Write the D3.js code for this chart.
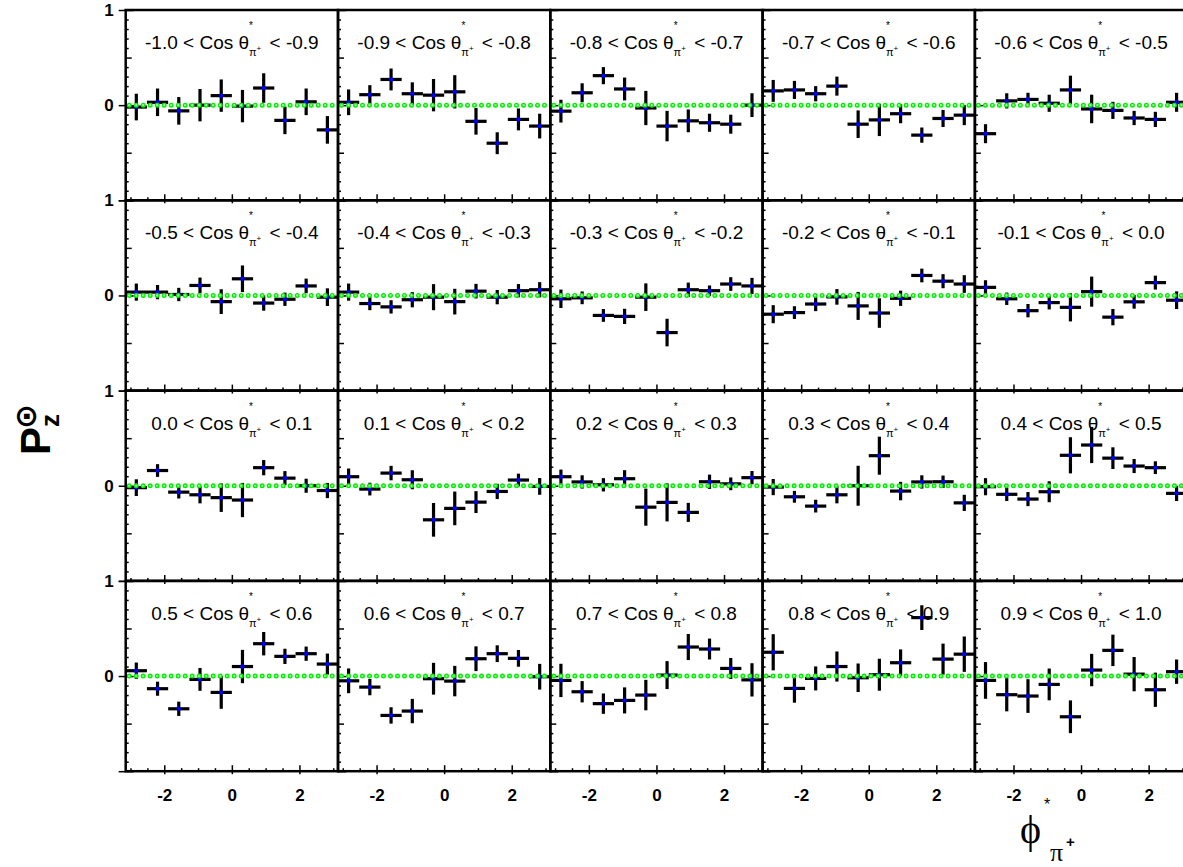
<!DOCTYPE html>
<meta charset="utf-8">
<style>
body { margin: 0; background: #fff; }
text { font-family: "Liberation Sans", Arial, Helvetica, sans-serif; }
</style>
<svg width="1183" height="867"></svg>
<script src="https://d3js.org/d3.v7.min.js"></script>
<script>

// cos(theta*) bin edges, one panel per bin
let cosEdges = ["-1.0", "-0.9", "-0.8", "-0.7", "-0.6", "-0.5", "-0.4", "-0.3", "-0.2", "-0.1",
                "0.0", "0.1", "0.2", "0.3", "0.4", "0.5", "0.6", "0.7", "0.8", "0.9", "1.0"];

// P_z values (10 phi* bins per panel)
let pz = [
  [-0.02, 0.03, -0.06, 0.0, 0.10, -0.01, 0.18, -0.16, 0.035, -0.26],
  [0.03, 0.11, 0.27, 0.12, 0.105, 0.14, -0.17, -0.40, -0.15, -0.22],
  [-0.063, 0.13, 0.31, 0.17, -0.03, -0.22, -0.165, -0.185, -0.20, 0.0],
  [0.15, 0.16, 0.12, 0.20, -0.20, -0.155, -0.09, -0.315, -0.14, -0.105],
  [-0.30, 0.045, 0.06, 0.02, 0.16, -0.04, -0.055, -0.135, -0.15, 0.03],
  [0.035, 0.035, 0.01, 0.105, -0.065, 0.175, -0.08, -0.04, 0.10, -0.018],
  [0.035, -0.085, -0.12, -0.045, -0.018, -0.065, 0.045, -0.018, 0.05, 0.06],
  [-0.035, -0.025, -0.21, -0.22, -0.018, -0.39, 0.06, 0.05, 0.12, 0.10],
  [-0.197, -0.18, -0.09, -0.015, -0.11, -0.185, -0.03, 0.21, 0.15, 0.12],
  [0.085, -0.035, -0.16, -0.075, -0.125, 0.04, -0.228, -0.067, 0.135, -0.05],
  [-0.02, 0.16, -0.067, -0.095, -0.125, -0.15, 0.19, 0.08, 0.0, -0.05],
  [0.095, -0.035, 0.133, 0.063, -0.358, -0.238, -0.172, -0.06, 0.06, -0.007],
  [0.095, 0.04, 0.01, 0.074, -0.225, -0.175, -0.28, 0.042, 0.02, 0.085],
  [-0.014, -0.116, -0.214, -0.095, 0.0, 0.316, -0.056, 0.04, 0.042, -0.18],
  [-0.01, -0.09, -0.14, -0.063, 0.32, 0.428, 0.29, 0.207, 0.19, -0.08],
  [0.056, -0.133, -0.344, -0.035, -0.172, 0.10, 0.34, 0.207, 0.235, 0.126],
  [-0.05, -0.116, -0.414, -0.368, -0.028, -0.053, 0.182, 0.235, 0.186, -0.007],
  [-0.046, -0.165, -0.29, -0.256, -0.2, 0.01, 0.305, 0.284, 0.08, -0.04],
  [0.25, -0.13, -0.025, 0.1, -0.018, 0.014, 0.14, 0.614, 0.178, 0.23],
  [-0.046, -0.196, -0.21, -0.088, -0.428, 0.063, 0.27, 0.02, -0.144, 0.046]
];

// statistical errors
let pzErr = [
  [0.14, 0.145, 0.145, 0.17, 0.17, 0.17, 0.155, 0.145, 0.14, 0.145],
  [0.135, 0.10, 0.115, 0.12, 0.17, 0.175, 0.14, 0.115, 0.115, 0.13],
  [0.12, 0.10, 0.09, 0.12, 0.18, 0.16, 0.12, 0.095, 0.10, 0.125],
  [0.115, 0.095, 0.08, 0.10, 0.145, 0.17, 0.10, 0.08, 0.09, 0.105],
  [0.10, 0.08, 0.07, 0.09, 0.15, 0.15, 0.09, 0.075, 0.08, 0.10],
  [0.09, 0.075, 0.07, 0.083, 0.13, 0.14, 0.08, 0.07, 0.077, 0.093],
  [0.09, 0.07, 0.07, 0.08, 0.137, 0.135, 0.077, 0.075, 0.07, 0.08],
  [0.097, 0.067, 0.067, 0.08, 0.145, 0.145, 0.075, 0.055, 0.072, 0.085],
  [0.095, 0.067, 0.075, 0.082, 0.147, 0.155, 0.08, 0.072, 0.074, 0.093],
  [0.075, 0.065, 0.07, 0.072, 0.148, 0.158, 0.086, 0.072, 0.073, 0.093],
  [0.088, 0.067, 0.067, 0.09, 0.15, 0.18, 0.08, 0.074, 0.074, 0.08],
  [0.086, 0.067, 0.076, 0.1, 0.177, 0.177, 0.115, 0.08, 0.067, 0.088],
  [0.075, 0.07, 0.07, 0.09, 0.195, 0.2, 0.1, 0.075, 0.067, 0.07],
  [0.085, 0.062, 0.067, 0.09, 0.21, 0.2, 0.097, 0.07, 0.065, 0.085],
  [0.09, 0.07, 0.074, 0.11, 0.19, 0.19, 0.114, 0.074, 0.067, 0.08],
  [0.086, 0.074, 0.075, 0.12, 0.172, 0.175, 0.123, 0.08, 0.075, 0.11],
  [0.13, 0.086, 0.086, 0.128, 0.167, 0.16, 0.13, 0.088, 0.088, 0.135],
  [0.175, 0.112, 0.107, 0.137, 0.16, 0.147, 0.137, 0.11, 0.11, 0.175],
  [0.19, 0.15, 0.126, 0.158, 0.15, 0.168, 0.14, 0.13, 0.163, 0.186],
  [0.193, 0.175, 0.177, 0.167, 0.172, 0.17, 0.165, 0.18, 0.18, 0.128]
];

let xMajor = [-2, 0, 2];
let yLabels = [1, 0];

// layout
let nCols = 5, nRows = 4;
let marginLeft = 125.7, marginTop = 10, pw = 212.3, ph = 190.3;
let nBins = 10;

let svg = d3.select("svg");

let x = d3.scaleLinear().domain([-Math.PI, Math.PI]).range([0, pw]);
let y = d3.scaleLinear().domain([-1, 1]).range([ph, 0]);
let binW = 2 * Math.PI / nBins;

let xMinor = d3.range(-3, 3.01, 0.5).filter(v => xMajor.indexOf(v) < 0);
let yMinor = d3.range(-10, 11).map(v => v / 10).filter(v => Math.abs(v) !== 1 && v !== 0 && Math.abs(v) !== 0.5);

function styleTicks(a) {
  a.select(".domain").remove();
  a.selectAll(".tick line").attr("stroke", "#000").attr("stroke-width", 1.5);
}

pz.forEach(function(vals, p) {
  let col = p % nCols, row = Math.floor(p / nCols);
  let g = svg.append("g")
    .attr("transform", `translate(${marginLeft + col * pw},${marginTop + row * ph})`);

  // ticks on the bottom edge, pointing up
  g.append("g").attr("transform", `translate(0,${ph})`)
    .call(d3.axisBottom(x).tickValues(xMinor).tickSize(-3).tickFormat(""))
    .call(styleTicks);
  let xa = g.append("g").attr("transform", `translate(0,${ph})`)
    .call(d3.axisBottom(x).tickValues(xMajor).tickSize(-6)
      .tickFormat(row === nRows - 1 ? (d => String(d)) : ""))
    .call(styleTicks);
  xa.selectAll(".tick text")
    .attr("y", 30).attr("dy", null)
    .attr("fill", "#000")
    .style("font-family", "Liberation Sans, Arial, sans-serif")
    .style("font-weight", "bold").style("font-size", "17px");
  xa.selectAll(".tick line").attr("y2", -6).attr("y1", 3);

  // ticks on the left edge, pointing right
  g.append("g")
    .call(d3.axisLeft(y).tickValues(yMinor).tickSize(-3).tickFormat(""))
    .call(styleTicks);
  g.append("g")
    .call(d3.axisLeft(y).tickValues([-0.5, 0.5]).tickSize(-6).tickFormat(""))
    .call(styleTicks);
  let ya = g.append("g")
    .call(d3.axisLeft(y).tickValues([-1, 0, 1]).tickSize(-8).tickFormat(""))
    .call(styleTicks);
  if (col === 0) {
    ya.selectAll(".tick line").attr("x1", -7);
    g.selectAll(".ylab").data(yLabels).enter().append("text")
      .attr("class", "ylab")
      .attr("x", -12)
      .attr("y", d => y(d) + 6)
      .attr("text-anchor", "end")
      .style("font-weight", "bold")
      .style("font-size", "17px")
      .text(d => d);
  }

  // data points with error bars
  let pts = vals.map((v, i) => ({ c: -Math.PI + (i + 0.5) * binW, v: v, e: pzErr[p][i] }));
  let pg = g.append("g");
  pg.selectAll(".hbar").data(pts).enter().append("line")
    .attr("x1", d => x(d.c - binW / 2)).attr("x2", d => x(d.c + binW / 2))
    .attr("y1", d => y(d.v)).attr("y2", d => y(d.v))
    .attr("stroke", "#000").attr("stroke-width", 3.2);
  pg.selectAll(".vbar").data(pts).enter().append("line")
    .attr("x1", d => x(d.c)).attr("x2", d => x(d.c))
    .attr("y1", d => y(d.v - d.e)).attr("y2", d => y(d.v + d.e))
    .attr("stroke", "#000").attr("stroke-width", 3.2);

  // zero line, dotted green
  g.selectAll(".zdot").data(d3.range(3.5, pw, 7)).enter().append("circle")
    .attr("cx", d => d).attr("cy", y(0)).attr("r", 1.8)
    .attr("fill", "#a8ffa8").attr("stroke", "#00ee00").attr("stroke-width", 1.4);

  pg.selectAll(".dot").data(pts).enter().append("circle")
    .attr("cx", d => x(d.c)).attr("cy", d => y(d.v)).attr("r", 2.2)
    .attr("fill", "#0000ff");

  // frame
  g.append("rect").attr("width", pw).attr("height", ph)
    .attr("fill", "none").attr("stroke", "#000").attr("stroke-width", 2.5);

  // bin label
  let t = g.append("text")
    .attr("x", pw / 2).attr("y", 39)
    .attr("text-anchor", "middle")
    .style("font-size", "19px");
  t.append("tspan").text(`${cosEdges[p]} < Cos θ`);
  t.append("tspan").attr("dy", -20).style("font-size", "10px").text("*");
  t.append("tspan").attr("dx", -4).attr("dy", 27).style("font-size", "11px").text("π");
  t.append("tspan").attr("dy", -5).style("font-size", "8px").text("+");
  t.append("tspan").attr("dx", 3).attr("dy", -2).text(` < ${cosEdges[p + 1]}`);
});

// y axis title: P_z with circled-dot superscript
let yt = svg.append("g").attr("transform", "translate(50,455) rotate(-90)");
yt.append("text").attr("x", 0).attr("y", 0)
  .style("font-weight", "bold").style("font-size", "42px").text("P");
yt.append("text").attr("x", 26).attr("y", -14)
  .style("font-family", "DejaVu Sans").style("font-weight", "bold").style("font-size", "30px").text("⊙");
yt.append("text").attr("x", 28).attr("y", 9)
  .style("font-weight", "bold").style("font-size", "26px").text("z");

// x axis title: phi*_pi+
let xt = svg.append("g");
xt.append("text").attr("x", 1020).attr("y", 843)
  .style("font-family", "Liberation Serif, DejaVu Serif, serif").style("font-size", "40px").text("ϕ");
xt.append("text").attr("x", 1044).attr("y", 810)
  .style("font-size", "16px").text("*");
xt.append("text").attr("x", 1050).attr("y", 861)
  .style("font-family", "Liberation Serif, serif").style("font-size", "26px").text("π");
xt.append("text").attr("x", 1066).attr("y", 847)
  .style("font-weight", "bold").style("font-size", "15px").text("+");

</script>
